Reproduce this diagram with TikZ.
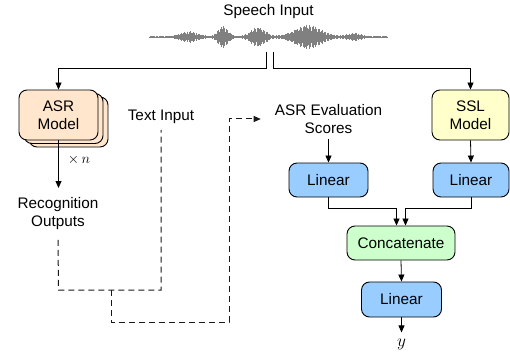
\documentclass[tikz,border=0pt]{standalone}
\usepackage{fontspec}
\setmainfont{Liberation Sans}
\usetikzlibrary{arrows.meta,shadows}
\definecolor{asrc}{HTML}{FFE6CC}
\definecolor{sslc}{HTML}{FFFFCC}
\definecolor{linc}{HTML}{99CCFF}
\definecolor{catc}{HTML}{CCFFCC}
\newcommand{\bumpval}[4]{% #1 result macro, #2 x, #3 centre, #4 width
  \pgfmathsetmacro\bumpd{(#2-#3)/#4}%
  \pgfmathsetmacro\bumpq{min(12,\bumpd*\bumpd)}%
  \pgfmathsetmacro#1{exp(-\bumpq)}}
\begin{document}
\begin{tikzpicture}[x=1pt,y=-1pt,
  every node/.style={font=\fontsize{15.3}{18.3}\selectfont, align=center, inner sep=0pt},
  box/.style={draw=black, line width=0.9pt, rounded corners=8pt, align=center},
  conn/.style={line width=0.8pt, -{Triangle[length=7pt,width=6pt]}},
  dashline/.style={line width=1pt, dash pattern=on 6pt off 4pt, black!90},
]
\useasboundingbox (0,0) rectangle (510,358);

% speech input and waveform
\node (speech) at (268.5,12) {Speech Input};
\foreach \i in {0,...,265} {
  \pgfmathsetmacro\xx{149+0.9*\i}
  \bumpval{\ba}{\xx}{189}{12}
  \bumpval{\bb}{\xx}{223}{7}
  \bumpval{\bc}{\xx}{258}{10}
  \bumpval{\bd}{\xx}{308}{18}
  \bumpval{\be}{\xx}{354}{9}
  \pgfmathsetmacro\rr{abs(sin(\i*53))}
  \pgfmathsetmacro\amp{(0.8+5*\ba+10*\bb+9*\bc+11*\bd+3.5*\be)*(0.5+0.5*\rr)}
  \draw[black!50, line width=0.6pt] (\xx,37-\amp) -- (\xx,37+\amp);
}
\coordinate (wl) at (266,52);
\coordinate (wr) at (273,52);

% nodes
\node[box, fill=asrc, minimum width=79pt, minimum height=50pt,
      double copy shadow={shadow xshift=5pt, shadow yshift=-3.5pt}] (asr) at (58.5,115) {ASR\\Model};
\node[box, fill=sslc, minimum width=77pt, minimum height=50pt] (ssl) at (470.5,115) {SSL\\Model};
\node (text) at (161,117) {Text Input};
\node[inner sep=5pt] (scores) at (328.5,119) {ASR Evaluation\\Scores};
\node (rec) at (58,213.5) {Recognition\\Outputs};
\node[box, fill=linc, minimum width=79pt, minimum height=34pt] (lin1) at (328.5,180) {Linear};
\node[box, fill=linc, minimum width=76pt, minimum height=34pt] (lin2) at (471,180) {Linear};
\node[box, fill=catc, minimum width=108pt, minimum height=34pt] (cat) at (401,243) {Concatenate};
\node[box, fill=linc, minimum width=80pt, minimum height=35pt] (lin3) at (401.5,299.5) {Linear};
\node (y) at (401.5,344) {\fontsize{18}{18}\selectfont$y$};
\node (xn) at (79,160) {\fontsize{15}{15}\selectfont$\times\, n$};
\coordinate (recin) at (58.5,188);
\coordinate (m1) at (111,290);

% solid connectors
\draw[conn] (wl) -- ++(0,16) -| (asr.north);
\draw[conn] (wr) -- ++(0,16) -| (ssl.north);
\draw[conn] (asr.south) -- (recin);
\draw[conn] (scores.south) -- (lin1.north);
\draw[conn] (ssl.south) -- (lin2.north);
\draw[conn] (lin1.south) -- ++(0,10.7) -| ([xshift=-4.5pt]cat.north);
\draw[conn] (lin2.south) -- ++(0,10.7) -| ([xshift=4.5pt]cat.north);
\draw[conn] (cat.south) -- (lin3.north);
\draw[conn] (lin3.south) -- ++(0,15);

% dashed connectors
\draw[dashline] ([yshift=-10pt]rec.south) -- (58.5,290) -- (161,290) -- ([yshift=-6pt]text.south);
\draw[dashline, -{Triangle[length=7pt,width=6pt]}, shorten >=9pt] (m1) -- (111,322) -- (229,322) |- (scores.west);
\end{tikzpicture}
\end{document}
